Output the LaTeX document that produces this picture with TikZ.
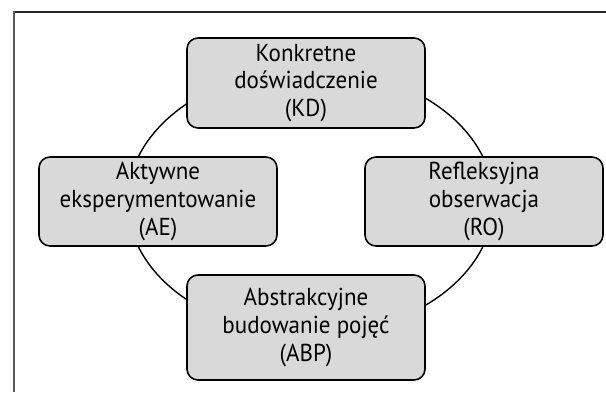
\documentclass[tikz,border=0pt]{standalone}
\usepackage{fontspec}
\setmainfont{PT Sans}[FakeStretch=0.94]
\begin{document}
\begin{tikzpicture}[x=1pt,y=-1pt,
  stage/.style={draw=black, line width=1.6pt, fill=gray!30, rounded corners=11pt,
    minimum width=238pt, align=center, font=\fontsize{24.5}{27.7}\selectfont, inner sep=0pt},
  cycleline/.style={draw=black, line width=1.4pt}]
\useasboundingbox (0,0) rectangle (606,392);
\coordinate (ctr) at (310.6,201.7);
\draw[cycleline] (ctr) ellipse [x radius=183, y radius=133];
\draw[black!85, line width=1.3pt] (14,12) -- (606,12);
\draw[gray!70!black, line width=2.6pt] (14,11.4) -- (14,392);
\node[stage, minimum height=90pt] (kd) at (306,83) {Konkretne\\doświadczenie\\(KD)};
\node[stage, minimum height=89pt] (ae) at (158,201.5) {Aktywne\\eksperymentowanie\\(AE)};
\node[stage, minimum height=89pt] (ro) at (484,201.5) {Refleksyjna\\obserwacja\\(RO)};
\node[stage, minimum height=105pt] (abp) at (306,327.5) {Abstrakcyjne\\budowanie pojęć\\(ABP)};
\end{tikzpicture}
\end{document}
